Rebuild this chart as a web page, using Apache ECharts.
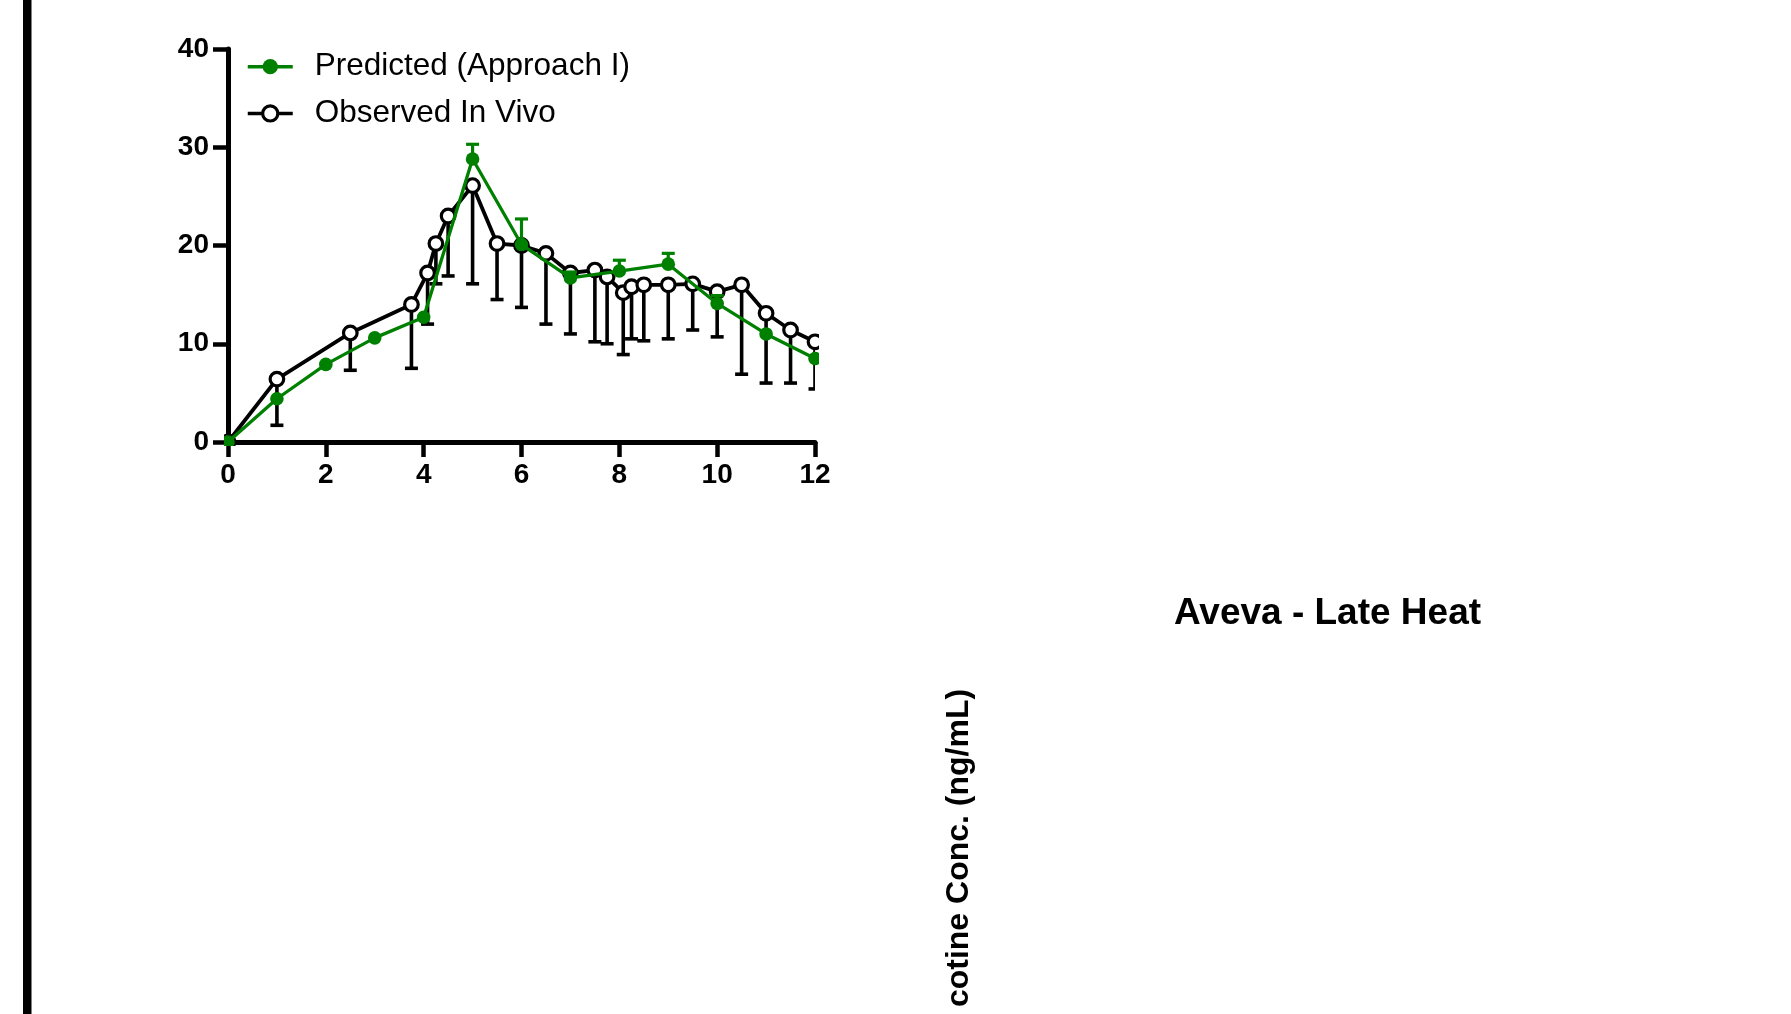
<!DOCTYPE html>
<html>
<head>
<meta charset="utf-8">
<title>Aveva - Late Heat</title>
<script src="https://cdn.jsdelivr.net/npm/echarts@6/dist/echarts.min.js"></script>
<style>
  html, body { margin: 0; padding: 0; background: #fff; }
  #chart { width: 1791px; height: 1014px; }
</style>
</head>
<body>
<div id="chart"></div>
<script>
// predicted (approach I): time (h), mean, SD (drawn upward)
const predTimes = [0, 1, 2, 3, 4, 5, 6, 7, 8, 9, 10, 11, 12]
const predMean = [0, 4.4, 7.9, 10.6, 12.7, 28.8, 20.1, 16.7, 17.4, 18.1, 14.1, 11.0, 8.5]
const predSD = [0, 0, 0, 0, 0, 1.5, 2.6, 0.6, 1.1, 1.1, 0.8, 0, 0]

// observed in vivo: time (h), mean, SD (drawn downward)
const obsTimes = [0, 1, 2.5, 3.75, 4.08, 4.25, 4.5, 5, 5.5, 6, 6.5, 7, 7.5, 7.75, 8.08, 8.25, 8.5, 9, 9.5, 10, 10.5, 11, 11.5, 12]
const obsMean = [0, 6.4, 11.1, 14.0, 17.2, 20.2, 23.0, 26.1, 20.2, 20.0, 19.2, 17.2, 17.5, 16.8, 15.2, 15.8, 16.0, 16.0, 16.1, 15.3, 16.0, 13.1, 11.4, 10.2]
const obsSD = [0, 4.7, 3.8, 6.5, 5.2, 4.1, 6.1, 10.0, 5.7, 6.3, 7.2, 6.2, 7.3, 6.8, 6.3, 5.3, 5.7, 5.5, 4.7, 4.6, 9.1, 7.1, 5.4, 4.8]

const xTicks = [0, 2, 4, 6, 8, 10, 12]
const yTicks = [0, 10, 20, 30, 40]

const predName = 'Predicted (Approach I)'
const obsName = 'Observed In Vivo'
const GREEN = '#008000'
const FONT = "'Liberation Sans', Arial, Helvetica, sans-serif"

const predData = predTimes.map((t, i) => [t, predMean[i], predSD[i]])
const obsData = obsTimes.map((t, i) => [t, obsMean[i], obsSD[i]])

function errorBar(dir, color, width) {
    return function (params, api) {
        const sd = api.value(2)
        if (!sd) return
        const x = api.value(0)
        const y = api.value(1)
        const a = api.coord([x, y])
        const b = api.coord([x, y + dir * sd])
        const style = { stroke: color, lineWidth: width }
        return {
            type: 'group',
            children: [
                { type: 'line', shape: { x1: a[0], y1: a[1], x2: b[0], y2: b[1] }, style: style },
                { type: 'line', shape: { x1: b[0] - 6.5, y1: b[1], x2: b[0] + 6.5, y2: b[1] }, style: style }
            ]
        }
    }
}

function dot(fill, stroke, lw, r) {
    return function (params, api) {
        const p = api.coord([api.value(0), api.value(1)])
        return {
            type: 'circle',
            shape: { cx: p[0], cy: p[1], r: r },
            style: { fill: fill, stroke: stroke, lineWidth: lw }
        }
    }
}

const chart = echarts.init(document.getElementById('chart'))

const axisCommon = {
    axisLine: { lineStyle: { color: '#000', width: 5 } },
    axisTick: { length: 15, lineStyle: { color: '#000', width: 4.5 } },
    axisLabel: { color: '#000', fontSize: 28, fontWeight: 'bold', fontFamily: FONT, margin: 19 },
    splitLine: { show: false }
}

const option = {
    animation: false,
    backgroundColor: '#fff',
    grid: { left: 228, top: 49, width: 587, height: 393 },
    legend: {
        orient: 'vertical',
        left: 246,
        top: 50.7,
        padding: 0,
        itemGap: 14.7,
        itemWidth: 45,
        itemHeight: 19,
        selectedMode: false,
        lineStyle: { width: 3.5 },
        textStyle: { color: '#000', fontSize: 31.5, fontFamily: FONT, lineHeight: 32, padding: [0, 0, 0, 17] },
        data: [
            { name: predName, itemStyle: { borderWidth: 0 } },
            { name: obsName, itemStyle: { borderWidth: 3.2 } }
        ]
    },
    xAxis: Object.assign({
        type: 'value',
        min: xTicks[0],
        max: xTicks[xTicks.length - 1],
        interval: xTicks[1] - xTicks[0]
    }, axisCommon),
    yAxis: Object.assign({
        type: 'value',
        min: yTicks[0],
        max: yTicks[yTicks.length - 1],
        interval: yTicks[1] - yTicks[0]
    }, axisCommon),
    graphic: [
        {
            type: 'rect',
            shape: { x: 23, y: 0, width: 8.5, height: 1014 },
            style: { fill: '#000' }
        },
        {
            type: 'text',
            x: 1327.5,
            y: 613.5,
            style: {
                text: 'Aveva - Late Heat',
                font: 'bold 37px ' + FONT,
                fill: '#000',
                textAlign: 'center',
                textVerticalAlign: 'middle'
            }
        },
        {
            type: 'text',
            x: 959,
            y: 848,
            rotation: Math.PI / 2,
            style: {
                text: 'cotine Conc. (ng/mL)',
                font: 'bold 32px ' + FONT,
                fill: '#000',
                textAlign: 'center',
                textVerticalAlign: 'middle'
            }
        }
    ],
    series: [
        {
            name: 'obsErr',
            type: 'custom',
            renderItem: errorBar(-1, '#000', 3.6),
            data: obsData,
            encode: { x: 0, y: 1 },
            clip: true,
            silent: true,
            z: 2
        },
        {
            name: obsName,
            type: 'line',
            data: obsData.map(d => [d[0], d[1]]),
            showSymbol: false,
            symbol: 'circle',
            symbolSize: 15,
            itemStyle: { color: '#fff', borderColor: '#000', borderWidth: 3.2 },
            lineStyle: { color: '#000', width: 3.8 },
            emphasis: { disabled: true },
            silent: true,
            z: 3
        },
        {
            name: 'obsDots',
            type: 'custom',
            renderItem: dot('#fff', '#000', 3.2, 6.8),
            data: obsData,
            encode: { x: 0, y: 1 },
            clip: true,
            lineStyle: { width: 8 },
            silent: true,
            z: 4
        },
        {
            name: predName,
            type: 'line',
            data: predData.map(d => [d[0], d[1]]),
            showSymbol: false,
            symbol: 'circle',
            symbolSize: 13,
            itemStyle: { color: GREEN },
            lineStyle: { color: GREEN, width: 3.3 },
            emphasis: { disabled: true },
            silent: true,
            z: 5
        },
        {
            name: 'predErr',
            type: 'custom',
            renderItem: errorBar(1, GREEN, 3.2),
            data: predData,
            encode: { x: 0, y: 1 },
            clip: true,
            silent: true,
            z: 6
        },
        {
            name: 'predDots',
            type: 'custom',
            renderItem: dot(GREEN, null, 0, 6.8),
            data: predData,
            encode: { x: 0, y: 1 },
            clip: true,
            lineStyle: { width: 8 },
            silent: true,
            z: 7
        }
    ]
}

chart.setOption(option)
</script>
</body>
</html>
